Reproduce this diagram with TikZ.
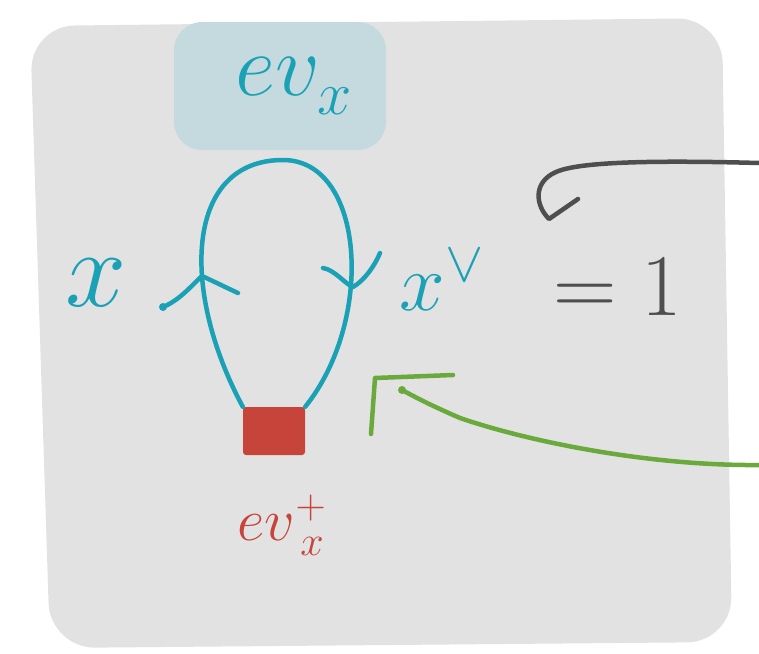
\RequirePackage{fix-cm}
\documentclass[tikz,border=0pt]{standalone}
\newcommand\myfs[1]{\fontsize{#1}{#1}\selectfont}
\definecolor{bgc}{HTML}{E2E2E2}
\definecolor{boxc}{HTML}{C4DADF}
\definecolor{tealc}{HTML}{1BA1B5}
\definecolor{redc}{HTML}{C7443A}
\definecolor{greenc}{HTML}{6AAA3C}
\definecolor{darkc}{HTML}{4E4E4E}
\begin{document}
\begin{tikzpicture}[x=1pt,y=-1pt,
  pen/.style={line width=4.5pt,line cap=round,line join=round},
  tealpen/.style={pen,draw=tealc},
  lbl/.style={inner sep=0pt,outer sep=0pt}]
\useasboundingbox (0,0) rectangle (759,653);
% grey sheet
\fill[bgc,rounded corners=45pt] (30,26) -- (722,18) -- (732,642) -- (50,648) -- cycle;
% blue box with label
\node[fill=boxc,rounded corners=28pt,minimum width=212pt,minimum height=128pt,inner sep=0pt] (evbox) at (280,86) {};
\node[lbl,text=tealc] (ev) at (294,86) {\myfs{88}$ev_{\raisebox{-6pt}{$\scriptstyle x$}}$};
% red square
\node[fill=redc,minimum width=62pt,minimum height=48pt,inner sep=0pt,rounded corners=3pt] (sq) at (274,431) {};
\node[lbl,text=redc] (evd) at (282,525) {\myfs{60}$ev^{+}_{\,x}$};
% loop
\coordinate (top) at (283,160);
\draw[tealpen] (sq.north west) .. controls (180,290) and (185,160) .. (top)
  .. controls (365,160) and (375,320) .. (sq.north east);
% arrowheads on the loop
\coordinate (la) at (202,276);
\coordinate (lb) at (163,307);
\coordinate (lc) at (238,293);
\draw[tealpen] (lb) .. controls (180,300) and (192,285) .. (la) .. controls (215,282) and (225,287) .. (lc);
\fill[tealc] (lb) circle (4pt);
\coordinate (ra) at (353,287);
\coordinate (rb) at (323,268);
\coordinate (rc) at (380,253);
\draw[tealpen] (rb) .. controls (335,270) and (345,284) .. (ra) .. controls (365,280) and (375,265) .. (rc);
% labels
\node[lbl,text=tealc] (xl) at (96,283) {\myfs{110}$x$};
\node[lbl,text=tealc] (xr) at (442,280) {\myfs{82}$x^\vee$};
\node[lbl,text=darkc] (one) at (618,287) {\myfs{88}${=}\;1$};
% grey arrow
\coordinate (gs) at (759,163);
\coordinate (gt) at (549,219);
\draw[pen,draw=darkc] (gs) .. controls (650,160) and (578,162) .. (556,172)
  .. controls (533,182) and (535,205) .. (gt) -- (578,199);
% green arrow
\coordinate (ns) at (759,465);
\coordinate (nt) at (402,390);
\draw[pen,draw=greenc] (ns) .. controls (650,466) and (530,442) .. (460,418)
  .. controls (430,405) and (415,397) .. (nt);
\fill[greenc] (nt) circle (4pt);
\coordinate (k1) at (371,434);
\coordinate (k2) at (375,378);
\coordinate (k3) at (453,375);
\draw[pen,draw=greenc] (k1) -- (k2) -- (k3);
\end{tikzpicture}
\end{document}
